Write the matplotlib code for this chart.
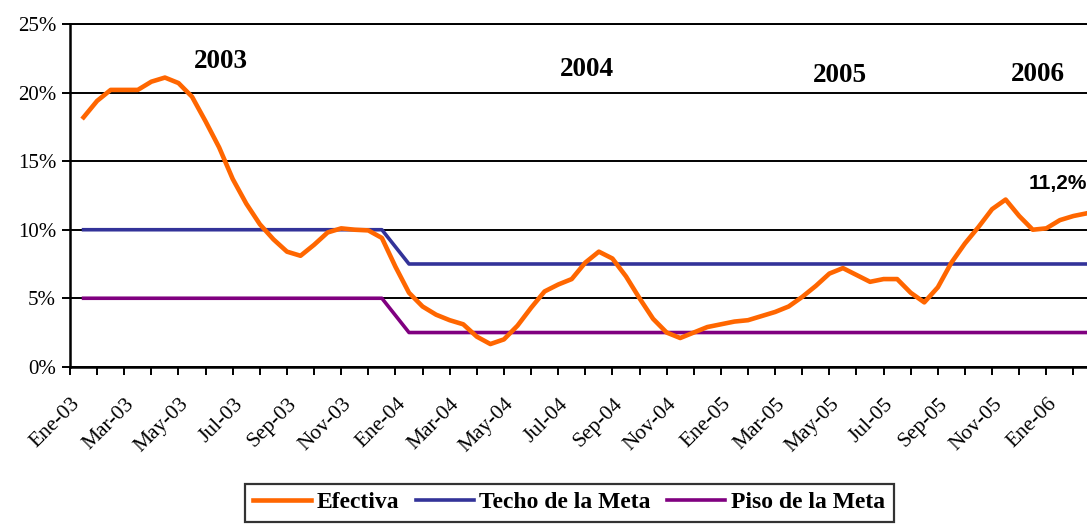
import numpy as np
import matplotlib
matplotlib.use("Agg")
from matplotlib import pyplot as plt
from matplotlib import transforms

# etiquetas del eje x (cada dos meses)
meses = ["Ene-03", "Mar-03", "May-03", "Jul-03", "Sep-03", "Nov-03",
         "Ene-04", "Mar-04", "May-04", "Jul-04", "Sep-04", "Nov-04",
         "Ene-05", "Mar-05", "May-05", "Jul-05", "Sep-05", "Nov-05",
         "Ene-06"]

# inflacion efectiva (dato quincenal, %)
efectiva = [18.2, 19.4, 20.2, 20.2, 20.2, 20.8, 21.1, 20.7, 19.7, 17.9,
            16.0, 13.7, 11.9, 10.4, 9.3, 8.4, 8.1, 8.9, 9.8, 10.1,
            10.0, 9.95, 9.4, 7.3, 5.4, 4.4, 3.8, 3.4, 3.1, 2.2,
            1.66, 2.0, 3.0, 4.3, 5.5, 6.0, 6.4, 7.6, 8.4, 7.9,
            6.6, 5.0, 3.5, 2.5, 2.1, 2.5, 2.9, 3.1, 3.3, 3.4,
            3.7, 4.0, 4.4, 5.1, 5.9, 6.8, 7.2, 6.7, 6.2, 6.4,
            6.4, 5.4, 4.7, 5.8, 7.6, 9.0, 10.2, 11.5, 12.2, 11.0,
            10.0, 10.1, 10.7, 11.0, 11.2]

# meta (dato mensual, %)
techo = [10.0] * 12 + [7.5] * 26
piso = [5.0] * 12 + [2.5] * 26

anios = ["2003", "2004", "2005", "2006"]

x_ef = np.arange(len(efectiva)) * 0.5
x_meta = np.arange(len(techo))

fig = plt.figure(figsize=(10.87, 5.24), dpi=100)
ax = fig.add_axes([0.0644, 0.300, 0.9356, 0.654])

ax.plot(x_ef, efectiva, color="#FF6600", lw=3.3, label="Efectiva", zorder=4)
ax.plot(x_meta, techo, color="#333399", lw=2.6, label="Techo de la Meta", zorder=3)
ax.plot(x_meta, piso, color="#800080", lw=2.6, label="Piso de la Meta", zorder=3)

ax.set_ylim(0, 25)
ax.set_xlim(-0.5, 37.0)
ax.set_yticks(range(0, 26, 5))
ax.set_yticklabels([f"{v}%" for v in range(0, 26, 5)],
                   fontfamily="Liberation Serif", fontsize=15)
ax.yaxis.grid(True, color="black", lw=1.4)
ax.set_axisbelow(True)

# marcas entre categorias, etiquetas en el centro
ax.set_xticks(np.arange(-0.5, 37.5, 1))
ax.set_xticklabels([])
ax.set_xticks(np.arange(0, 37, 2), minor=True)
ax.set_xticklabels(meses, minor=True, rotation=45, ha="right",
                   rotation_mode="anchor", fontfamily="Liberation Serif",
                   fontsize=15.5)
ax.tick_params(axis="x", which="major", length=6, width=1.4, direction="out")
ax.tick_params(axis="x", which="minor", length=0, pad=20)
ax.tick_params(axis="y", length=6, width=1.4, direction="out", pad=4)

desplaza = transforms.ScaledTranslation(-0.13, 0, fig.dpi_scale_trans)
for lab in ax.get_xticklabels(minor=True):
    lab.set_transform(lab.get_transform() + desplaza)

ax.spines["right"].set_visible(False)
ax.spines["top"].set_linewidth(1.4)
ax.spines["left"].set_linewidth(1.8)
ax.spines["bottom"].set_linewidth(1.8)

pos_anios = [(5.05, 22.3), (18.55, 21.7), (27.9, 21.25), (35.2, 21.3)]
for a, (xa, ya) in zip(anios, pos_anios):
    ax.text(xa, ya, a, ha="center", va="center", fontfamily="Liberation Serif",
            fontweight="bold", fontsize=19.5)

ax.text(37.0, 13.4, "11,2%", ha="right", va="center",
        fontfamily="Liberation Sans", fontweight="bold", fontsize=15)

leg = fig.legend(loc="upper center", bbox_to_anchor=(0.5235, 0.077), ncol=3,
                 frameon=True, fancybox=False, edgecolor="black",
                 prop={"family": "Liberation Serif", "weight": "bold", "size": 17},
                 handlelength=2.45, columnspacing=0.7, handletextpad=0.25,
                 borderpad=0.35, borderaxespad=0)
leg.get_frame().set_linewidth(1.6)

fig.savefig("out.png", dpi=100)
